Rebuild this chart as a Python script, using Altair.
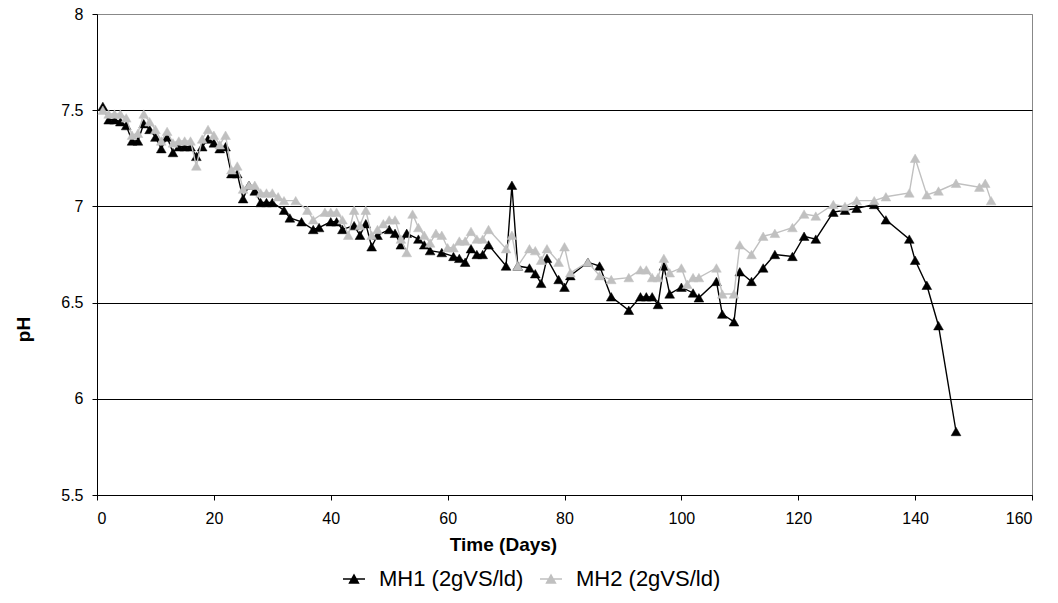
import altair as alt
import pandas as pd

# MH1 (2gVS/ld) - black series
mh1_day = [1, 2, 3, 4, 5, 6, 7, 8, 9, 10, 11, 12, 13, 14, 15, 16, 17, 18, 19, 20,
           21, 22, 23, 24, 25, 26, 27, 28, 29, 30, 32, 33, 35, 37, 38, 40, 41, 42, 44, 45,
           46, 47, 48, 50, 51, 52, 53, 55, 56, 57, 59, 61, 62, 63, 64, 65, 66, 67, 70, 71,
           72, 74, 75, 76, 77, 79, 80, 81, 84, 86, 88, 91, 93, 94, 95, 96, 97, 98, 100, 102,
           103, 106, 107, 109, 110, 112, 114, 116, 119, 121, 123, 126, 128, 130, 133, 135, 139, 140, 142, 144,
           147]
mh1_ph = [7.52, 7.45, 7.45, 7.44, 7.42, 7.34, 7.34, 7.43, 7.40, 7.36, 7.30, 7.36, 7.28, 7.31, 7.31, 7.31, 7.26, 7.31, 7.35, 7.33,
          7.30, 7.31, 7.17, 7.17, 7.04, 7.11, 7.08, 7.02, 7.02, 7.02, 6.98, 6.94, 6.92, 6.88, 6.89, 6.92, 6.92, 6.88, 6.90, 6.85,
          6.91, 6.79, 6.85, 6.88, 6.86, 6.80, 6.86, 6.83, 6.80, 6.77, 6.76, 6.74, 6.73, 6.71, 6.78, 6.75, 6.75, 6.80, 6.69, 7.11,
          6.69, 6.68, 6.65, 6.60, 6.73, 6.62, 6.58, 6.64, 6.71, 6.69, 6.53, 6.46, 6.53, 6.53, 6.53, 6.49, 6.69, 6.545, 6.58, 6.55,
          6.525, 6.61, 6.44, 6.40, 6.66, 6.61, 6.68, 6.75, 6.74, 6.845, 6.83, 6.97, 6.98, 6.99, 7.01, 6.93, 6.83, 6.72, 6.59, 6.38,
          5.83]

# MH2 (2gVS/ld) - grey series
mh2_day = [1, 2, 3, 4, 5, 6, 7, 8, 9, 10, 11, 12, 13, 14, 15, 16, 17, 18, 19, 20,
           21, 22, 23, 24, 25, 26, 27, 28, 29, 30, 31, 32, 34, 36, 37, 39, 40, 41, 42, 43,
           44, 45, 46, 47, 48, 49, 50, 51, 52, 53, 54, 55, 56, 57, 58, 59, 60, 61, 62, 63,
           64, 65, 66, 67, 70, 71, 72, 74, 75, 76, 77, 79, 80, 81, 84, 86, 88, 91, 93, 94,
           95, 96, 97, 98, 100, 101, 102, 103, 106, 107, 109, 110, 112, 114, 116, 119, 121, 123, 126, 128,
           130, 133, 135, 139, 140, 142, 144, 147, 151, 152, 153]
mh2_ph = [7.50, 7.48, 7.48, 7.48, 7.46, 7.37, 7.38, 7.48, 7.44, 7.40, 7.34, 7.39, 7.33, 7.34, 7.34, 7.34, 7.21, 7.35, 7.40, 7.37,
          7.32, 7.37, 7.19, 7.21, 7.09, 7.11, 7.11, 7.07, 7.07, 7.07, 7.05, 7.03, 7.03, 6.98, 6.93, 6.97, 6.97, 6.97, 6.93, 6.85,
          6.98, 6.90, 6.98, 6.85, 6.88, 6.91, 6.93, 6.93, 6.83, 6.76, 6.96, 6.89, 6.85, 6.81, 6.86, 6.85, 6.785, 6.785, 6.82, 6.82,
          6.87, 6.83, 6.83, 6.88, 6.78, 6.85, 6.69, 6.78, 6.77, 6.72, 6.78, 6.71, 6.79, 6.655, 6.71, 6.64, 6.62, 6.63, 6.67, 6.67,
          6.63, 6.63, 6.73, 6.655, 6.68, 6.595, 6.63, 6.63, 6.68, 6.545, 6.545, 6.80, 6.75, 6.845, 6.86, 6.89, 6.96, 6.95, 7.01, 7.00,
          7.03, 7.03, 7.05, 7.07, 7.25, 7.06, 7.08, 7.12, 7.10, 7.12, 7.03]

series_names = ["MH1 (2gVS/ld)", "MH2 (2gVS/ld)"]
series_colors = ["#000000", "#c0c0c0"]
x_ticks = [0, 20, 40, 60, 80, 100, 120, 140, 160]
y_ticks = [5.5, 6, 6.5, 7, 7.5, 8]

df = pd.concat([
    pd.DataFrame({"day": mh1_day, "ph": mh1_ph, "series": series_names[0]}),
    pd.DataFrame({"day": mh2_day, "ph": mh2_ph, "series": series_names[1]}),
], ignore_index=True)

FONT = "Liberation Sans"

x_enc = alt.X("day:Q",
              scale=alt.Scale(domain=[0, 160], nice=False),
              axis=alt.Axis(values=x_ticks, format="d", grid=False, title="Time (Days)",
                            titleFont=FONT, titleFontSize=19, titleFontWeight="bold",
                            titleX=406, titleY=49, titleBaseline="middle", titleAlign="center",
                            labelFont=FONT, labelFontSize=16, labelColor="black",
                            labelPadding=10, tickSize=5, tickColor="black",
                            domainColor="black", titleColor="black"))
y_enc = alt.Y("ph:Q",
              scale=alt.Scale(domain=[5.5, 8], nice=False, zero=False),
              axis=alt.Axis(values=y_ticks, format="~g", title="pH",
                            grid=True,
                            gridColor=alt.condition("datum.value == 8", alt.value("#888888"), alt.value("#000000")),
                            gridWidth=1,
                            titleFont=FONT, titleFontSize=19, titleFontWeight="bold",
                            titleX=-74, titleY=315, titleAngle=270, titleBaseline="middle",
                            titleAlign="center",
                            labelFont=FONT, labelFontSize=16, labelColor="black",
                            labelPadding=9, tickSize=5, tickColor="black",
                            domainColor="black", titleColor="black"))

legend = alt.Legend(title=None, orient="none", legendX=245, legendY=553, direction="horizontal",
                    symbolType="M-1,0H1M-0.4,0.36L0,-0.36L0.4,0.36Z", symbolSize=484,
                    symbolStrokeWidth=1.5, labelFont=FONT, labelFontSize=22, labelColor="black",
                    labelOffset=13, columnPadding=13, padding=0)
cscale = alt.Scale(domain=series_names, range=series_colors)

base = alt.Chart(df)
layers = []
for name, col in zip(series_names, series_colors):
    sub = base.transform_filter(alt.datum.series == name)
    line = sub.mark_line(color=col, strokeWidth=1.4).encode(x=x_enc, y=y_enc)
    pts = sub.mark_point(shape="triangle-up", filled=True, size=95, strokeWidth=0.5, opacity=1).encode(
        x=x_enc, y=y_enc,
        fill=alt.Fill("series:N", scale=cscale, legend=legend),
        stroke=alt.Stroke("series:N", scale=cscale, legend=legend),
    )
    layers += [line, pts]

chart = alt.layer(*layers).properties(
    width=935, height=481,
    autosize=alt.AutoSizeParams(type="none"),
    padding={"left": 97, "top": 14, "right": 26, "bottom": 108},
    background="white",
).configure_view(stroke="#888888", strokeWidth=1)

chart.save("out.html", embed_options={"renderer": "svg", "actions": False})
